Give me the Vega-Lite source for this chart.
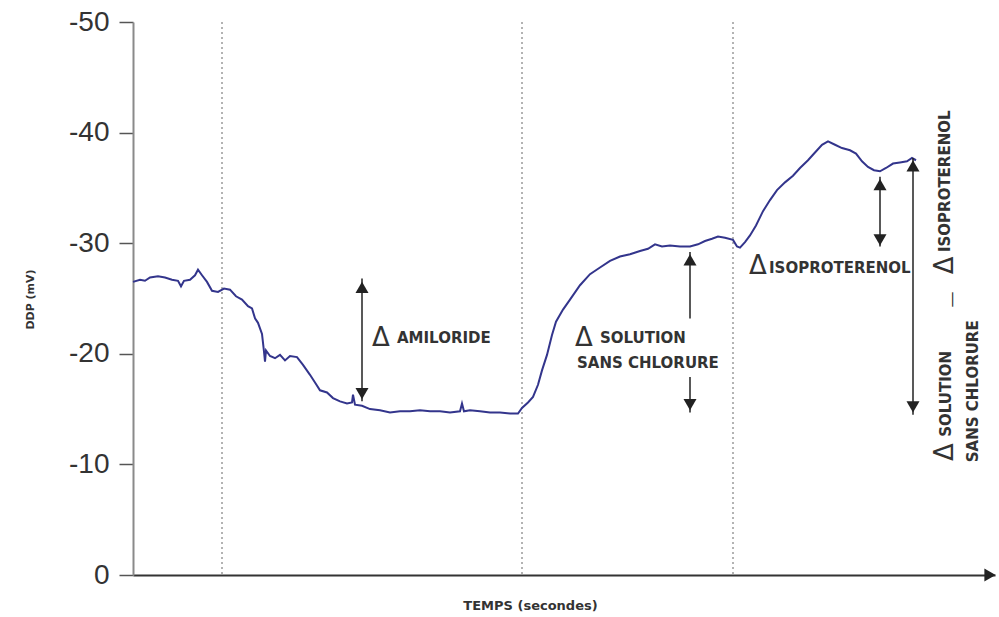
{
  "$schema": "https://vega.github.io/schema/vega-lite/v6.json",
  "width": 862,
  "height": 553,
  "autosize": {"type": "none"},
  "padding": {"left": 133, "top": 22, "right": 4, "bottom": 42},
  "background": "white",
  "config": {"view": {"stroke": null}},
  "datasets": {
    "trace": [
      {"t": 0, "v": -26.5}, {"t": 7, "v": -26.7}, {"t": 12, "v": -26.6}, {"t": 17, "v": -26.9}, {"t": 25, "v": -27.0},
      {"t": 32, "v": -26.9}, {"t": 39, "v": -26.7}, {"t": 45, "v": -26.6}, {"t": 48, "v": -26.1}, {"t": 51, "v": -26.6},
      {"t": 57, "v": -26.7}, {"t": 62, "v": -27.1}, {"t": 65, "v": -27.6}, {"t": 69, "v": -27.1}, {"t": 74, "v": -26.5},
      {"t": 79, "v": -25.7}, {"t": 85, "v": -25.6}, {"t": 91, "v": -25.9}, {"t": 97, "v": -25.8}, {"t": 103, "v": -25.2},
      {"t": 109, "v": -24.9}, {"t": 115, "v": -24.3}, {"t": 119, "v": -24.1}, {"t": 122, "v": -23.2}, {"t": 125, "v": -22.8},
      {"t": 129, "v": -21.8}, {"t": 131, "v": -20.2}, {"t": 132, "v": -19.3}, {"t": 133, "v": -20.3}, {"t": 137, "v": -19.8},
      {"t": 142, "v": -19.6}, {"t": 147, "v": -19.9}, {"t": 152, "v": -19.4}, {"t": 157, "v": -19.8}, {"t": 164, "v": -19.7},
      {"t": 170, "v": -19.0}, {"t": 177, "v": -18.1}, {"t": 182, "v": -17.4}, {"t": 187, "v": -16.7}, {"t": 194, "v": -16.5},
      {"t": 200, "v": -16.0}, {"t": 207, "v": -15.7}, {"t": 214, "v": -15.5}, {"t": 219, "v": -15.6}, {"t": 220, "v": -16.3},
      {"t": 222, "v": -15.4}, {"t": 229, "v": -15.3}, {"t": 237, "v": -15.0}, {"t": 247, "v": -14.9}, {"t": 257, "v": -14.7},
      {"t": 267, "v": -14.8}, {"t": 277, "v": -14.8}, {"t": 287, "v": -14.9}, {"t": 297, "v": -14.8}, {"t": 307, "v": -14.8},
      {"t": 317, "v": -14.7}, {"t": 327, "v": -14.8}, {"t": 329, "v": -15.5}, {"t": 331, "v": -14.8}, {"t": 337, "v": -14.9},
      {"t": 347, "v": -14.8}, {"t": 357, "v": -14.7}, {"t": 367, "v": -14.7}, {"t": 377, "v": -14.6}, {"t": 385, "v": -14.6},
      {"t": 389, "v": -15.1}, {"t": 395, "v": -15.6}, {"t": 400, "v": -16.1}, {"t": 405, "v": -17.2}, {"t": 409, "v": -18.5},
      {"t": 414, "v": -19.9}, {"t": 419, "v": -21.7}, {"t": 423, "v": -22.9}, {"t": 430, "v": -24.0}, {"t": 437, "v": -24.9},
      {"t": 447, "v": -26.2}, {"t": 457, "v": -27.2}, {"t": 467, "v": -27.8}, {"t": 477, "v": -28.4}, {"t": 487, "v": -28.8},
      {"t": 497, "v": -29.0}, {"t": 507, "v": -29.3}, {"t": 515, "v": -29.5}, {"t": 522, "v": -29.9}, {"t": 529, "v": -29.7},
      {"t": 537, "v": -29.8}, {"t": 547, "v": -29.7}, {"t": 557, "v": -29.7}, {"t": 565, "v": -29.9}, {"t": 572, "v": -30.2},
      {"t": 579, "v": -30.4}, {"t": 585, "v": -30.6}, {"t": 592, "v": -30.5}, {"t": 600, "v": -30.3}, {"t": 604, "v": -29.7},
      {"t": 607, "v": -29.6}, {"t": 612, "v": -30.1}, {"t": 617, "v": -30.7}, {"t": 623, "v": -31.6}, {"t": 630, "v": -32.9},
      {"t": 637, "v": -33.9}, {"t": 644, "v": -34.8}, {"t": 652, "v": -35.5}, {"t": 660, "v": -36.1}, {"t": 667, "v": -36.8},
      {"t": 675, "v": -37.5}, {"t": 682, "v": -38.2}, {"t": 689, "v": -38.9}, {"t": 695, "v": -39.2}, {"t": 702, "v": -38.9},
      {"t": 709, "v": -38.6}, {"t": 717, "v": -38.4}, {"t": 723, "v": -38.1}, {"t": 729, "v": -37.4}, {"t": 735, "v": -36.9},
      {"t": 741, "v": -36.6}, {"t": 747, "v": -36.5}, {"t": 753, "v": -36.8}, {"t": 760, "v": -37.2}, {"t": 767, "v": -37.3},
      {"t": 774, "v": -37.4}, {"t": 779, "v": -37.7}, {"t": 783, "v": -37.5}
    ],
    "phases": [{"t": 89}, {"t": 389}, {"t": 600}],
    "shafts": [
      {"t": 229, "v": -26.8, "v2": -15.7},
      {"t": 557, "v": -29.2, "v2": -23.2},
      {"t": 557, "v": -17.9, "v2": -14.7},
      {"t": 747, "v": -36.0, "v2": -29.7},
      {"t": 780, "v": -37.7, "v2": -14.5}
    ],
    "heads": [
      {"t": 229, "v": -26.0, "dir": "up"},
      {"t": 229, "v": -16.4, "dir": "down"},
      {"t": 557, "v": -28.5, "dir": "up"},
      {"t": 557, "v": -15.4, "dir": "down"},
      {"t": 747, "v": -35.3, "dir": "up"},
      {"t": 747, "v": -30.3, "dir": "down"},
      {"t": 780, "v": -37.0, "dir": "up"},
      {"t": 780, "v": -15.2, "dir": "down"},
      {"t": 857, "v": 0, "dir": "right"}
    ],
    "deltas": [
      {"t": 248, "v": -21.4},
      {"t": 451, "v": -21.4},
      {"t": 625, "v": -27.9}
    ],
    "labels": [
      {"t": 264, "v": -21.4, "label": "AMILORIDE"},
      {"t": 467, "v": -21.4, "label": "SOLUTION"},
      {"t": 444, "v": -19.2, "label": "SANS CHLORURE"},
      {"t": 636, "v": -27.8, "label": "ISOPROTERENOL"}
    ],
    "vdeltas": [
      {"t": 812, "v": -11.1},
      {"t": 812, "v": -28.0}
    ],
    "vlabels": [
      {"t": 813, "v": -12.5, "label": "SOLUTION"},
      {"t": 840, "v": -10.2, "label": "SANS CHLORURE"},
      {"t": 812, "v": -29.2, "label": "ISOPROTERENOL"}
    ],
    "dash": [{"t": 819, "v": -24.9, "label": "—"}]
  },
  "layer": [
    {
      "data": {"name": "phases"},
      "mark": {"type": "rule", "color": "#9a9a9a", "strokeWidth": 1.5, "strokeDash": [2, 3]},
      "encoding": {
        "x": {"field": "t", "type": "quantitative"}
      }
    },
    {
      "data": {"name": "trace"},
      "mark": {"type": "line", "color": "#33358c", "strokeWidth": 2, "interpolate": "linear"},
      "encoding": {
        "x": {
          "field": "t", "type": "quantitative",
          "scale": {"domain": [0, 862], "nice": false, "zero": false},
          "axis": {
            "title": "TEMPS (secondes)", "ticks": false, "labels": false, "grid": false,
            "domainColor": "#333333", "domainWidth": 2,
            "titleFont": "DejaVu Sans", "titleFontSize": 13, "titleFontWeight": "bold", "titleColor": "#333333",
            "titleX": 397, "titleY": 30, "titleAlign": "center", "titleBaseline": "middle"
          }
        },
        "y": {
          "field": "v", "type": "quantitative",
          "scale": {"domain": [0, -50], "nice": false, "zero": false},
          "axis": {
            "title": "DDP (mV)", "values": [0, -10, -20, -30, -40, -50], "grid": false,
            "labelExpr": "'' + datum.value",
            "domainColor": "#8a8a8a", "domainWidth": 2,
            "tickColor": "#555555", "tickSize": 14, "tickWidth": 1.5,
            "labelFont": "Liberation Sans", "labelFontSize": 28, "labelColor": "#333333", "labelPadding": 10,
            "titleFont": "DejaVu Sans", "titleFontSize": 11, "titleFontWeight": "bold", "titleColor": "#333333",
            "titleX": -103, "titleY": 277, "titleAngle": 270, "titleAlign": "center", "titleBaseline": "middle"
          }
        }
      }
    },
    {
      "data": {"name": "shafts"},
      "mark": {"type": "rule", "color": "#222222", "strokeWidth": 1.5},
      "encoding": {
        "x": {"field": "t", "type": "quantitative"},
        "y": {"field": "v", "type": "quantitative"},
        "y2": {"field": "v2"}
      }
    },
    {
      "data": {"name": "heads"},
      "mark": {"type": "point", "filled": true, "color": "#222222", "size": 170, "opacity": 1},
      "encoding": {
        "x": {"field": "t", "type": "quantitative"},
        "y": {"field": "v", "type": "quantitative"},
        "shape": {
          "field": "dir", "type": "nominal",
          "scale": {"domain": ["up", "down", "right"], "range": ["triangle-up", "triangle-down", "triangle-right"]},
          "legend": null
        }
      }
    },
    {
      "data": {"name": "deltas"},
      "mark": {"type": "text", "text": "Δ", "font": "DejaVu Sans", "fontSize": 26, "fontWeight": "normal", "color": "#333333", "align": "center", "baseline": "middle"},
      "encoding": {
        "x": {"field": "t", "type": "quantitative"},
        "y": {"field": "v", "type": "quantitative"}
      }
    },
    {
      "data": {"name": "labels"},
      "mark": {"type": "text", "font": "DejaVu Sans", "fontSize": 15, "fontWeight": "bold", "color": "#333333", "align": "left", "baseline": "middle"},
      "encoding": {
        "x": {"field": "t", "type": "quantitative"},
        "y": {"field": "v", "type": "quantitative"},
        "text": {"field": "label"}
      }
    },
    {
      "data": {"name": "vdeltas"},
      "mark": {"type": "text", "text": "Δ", "angle": 270, "font": "DejaVu Sans", "fontSize": 26, "fontWeight": "normal", "color": "#333333", "align": "center", "baseline": "middle"},
      "encoding": {
        "x": {"field": "t", "type": "quantitative"},
        "y": {"field": "v", "type": "quantitative"}
      }
    },
    {
      "data": {"name": "vlabels"},
      "mark": {"type": "text", "angle": 270, "font": "DejaVu Sans", "fontSize": 15, "fontWeight": "bold", "color": "#333333", "align": "left", "baseline": "middle"},
      "encoding": {
        "x": {"field": "t", "type": "quantitative"},
        "y": {"field": "v", "type": "quantitative"},
        "text": {"field": "label"}
      }
    },
    {
      "data": {"name": "dash"},
      "mark": {"type": "text", "angle": 270, "font": "DejaVu Sans", "fontSize": 16, "fontWeight": "normal", "color": "#333333", "align": "center", "baseline": "middle"},
      "encoding": {
        "x": {"field": "t", "type": "quantitative"},
        "y": {"field": "v", "type": "quantitative"},
        "text": {"field": "label"}
      }
    }
  ]
}
